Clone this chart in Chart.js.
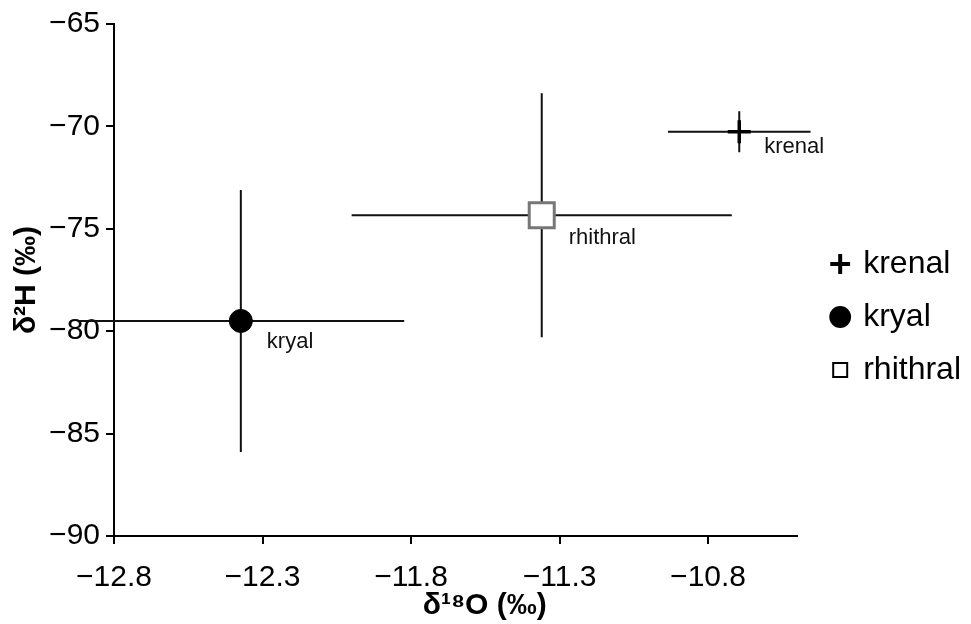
<!DOCTYPE html>
<html>
<head>
<meta charset="utf-8">
<script src="https://cdn.jsdelivr.net/npm/chart.js@4.4.1/dist/chart.umd.min.js"></script>
<style>
  html, body { margin:0; padding:0; background:#fff; }
  #wrap { width:971px; height:624px; }
</style>
</head>
<body>
<div id="wrap"><canvas id="c" width="971" height="624"></canvas></div>
<script>
// ── Data (means ± SD) ──────────────────────────────────────
const groups   = ['krenal', 'kryal', 'rhithral'];
const d18O     = [-10.695, -12.373, -11.360];
const d18O_sd  = [0.24, 0.55, 0.64];
const d2H      = [-70.26, -79.50, -74.34];
const d2H_sd   = [1.0, 6.4, 5.96];
const xTicks   = [-12.8, -12.3, -11.8, -11.3, -10.8];
const yTicks   = [-90, -85, -80, -75, -70, -65];

// ── Styles ─────────────────────────────────────────────────
const markers  = [
  { pointStyle:'cross',  radius:11.5, bg:'#000', border:'#000', bw:3.5 },
  { pointStyle:'circle', radius:11.5, bg:'#000', border:'#000', bw:1 },
  { pointStyle:'rect',   radius:17.7, bg:'#fff', border:'#777', bw:3 }
];
const labelOffset = [[25, 15], [26, 21], [27, 23]];

const FONT = "'Liberation Sans', Arial, sans-serif";
Chart.defaults.font.family = FONT;
Chart.defaults.color = '#000';

const minus = v => String(v).replace('-', '\u2212');

// ── Error bars + point labels ──────────────────────────────
const errorBars = {
  id: 'errorBars',
  beforeDatasetsDraw(chart) {
    const { ctx, scales: { x, y } } = chart;
    ctx.save();
    ctx.strokeStyle = '#111';
    ctx.lineWidth = 2;
    groups.forEach((g, i) => {
      const cx = x.getPixelForValue(d18O[i]);
      const cy = y.getPixelForValue(d2H[i]);
      ctx.beginPath();
      ctx.moveTo(x.getPixelForValue(d18O[i] - d18O_sd[i]), cy);
      ctx.lineTo(x.getPixelForValue(d18O[i] + d18O_sd[i]), cy);
      ctx.moveTo(cx, y.getPixelForValue(d2H[i] + d2H_sd[i]));
      ctx.lineTo(cx, y.getPixelForValue(d2H[i] - d2H_sd[i]));
      ctx.stroke();
    });
    ctx.restore();
  },
  afterDatasetsDraw(chart) {
    const { ctx, scales: { x, y } } = chart;
    ctx.save();
    ctx.font = '22px ' + FONT;
    ctx.fillStyle = '#111';
    ctx.textAlign = 'left';
    ctx.textBaseline = 'middle';
    groups.forEach((g, i) => {
      ctx.fillText(g, x.getPixelForValue(d18O[i]) + labelOffset[i][0],
                      y.getPixelForValue(d2H[i]) + labelOffset[i][1]);
    });
    ctx.restore();
  }
};

const datasets = groups.map((g, i) => ({
  label: g,
  data: [{ x: d18O[i], y: d2H[i] }],
  pointStyle: markers[i].pointStyle,
  pointRadius: markers[i].radius,
  pointBackgroundColor: markers[i].bg,
  pointBorderColor: markers[i].border,
  pointBorderWidth: markers[i].bw,
  showLine: false
}));

const axisGrid = { display:true, drawOnChartArea:false, drawTicks:true, tickLength:8, color:'#000', lineWidth:2 };

new Chart(document.getElementById('c'), {
  type: 'scatter',
  data: { datasets },
  plugins: [errorBars],
  options: {
    responsive: false,
    animation: false,
    events: [],
    layout: { padding: { left: 9, top: 10, right: 0, bottom: 0 } },
    plugins: {
      tooltip: { enabled: false },
      legend: {
        position: 'right',
        labels: {
          usePointStyle: true,
          boxWidth: 14, boxHeight: 14,
          padding: 21,
          color: '#000',
          font: { size: 32 },
          generateLabels(chart) {
            const items = Chart.defaults.plugins.legend.labels.generateLabels(chart);
            items.forEach(it => {
              it.strokeStyle = '#000';
              it.lineWidth = it.pointStyle === 'cross' ? 4 : 2;
            });
            return items;
          }
        }
      }
    },
    scales: {
      x: {
        type: 'linear',
        min: -12.8, max: -10.5,
        afterBuildTicks: s => { s.ticks = xTicks.map(v => ({ value: v })); },
        afterFit: s => { s.height = 88; },
        grid: axisGrid,
        border: { display:true, color:'#000', width:2 },
        ticks: { color:'#000', font:{ size:30 }, padding:16, maxRotation:0,
                 callback: v => minus(v.toFixed(1)) },
        title: { display:true, text:'       δ¹⁸O (‰)', color:'#000',
                 font:{ size:30, weight:'bold' }, padding:0 }
      },
      y: {
        type: 'linear',
        min: -90, max: -65,
        afterBuildTicks: s => { s.ticks = yTicks.map(v => ({ value: v })); },
        afterFit: s => { s.width = 105; s.paddingTop = 24; },
        grid: axisGrid,
        border: { display:true, color:'#000', width:2 },
        ticks: { color:'#000', font:{ size:30 }, padding:6,
                 callback: v => minus(v) },
        title: { display:true, text:'δ²H (‰)', color:'#000',
                 font:{ size:30, weight:'bold' }, padding:0 }
      },
      yR: {
        type: 'linear',
        position: 'right',
        display: true,
        grid: { display:false },
        border: { display:false },
        ticks: { display:false },
        afterFit: s => { s.width = 15; }
      }
    }
  }
});
</script>
</body>
</html>
